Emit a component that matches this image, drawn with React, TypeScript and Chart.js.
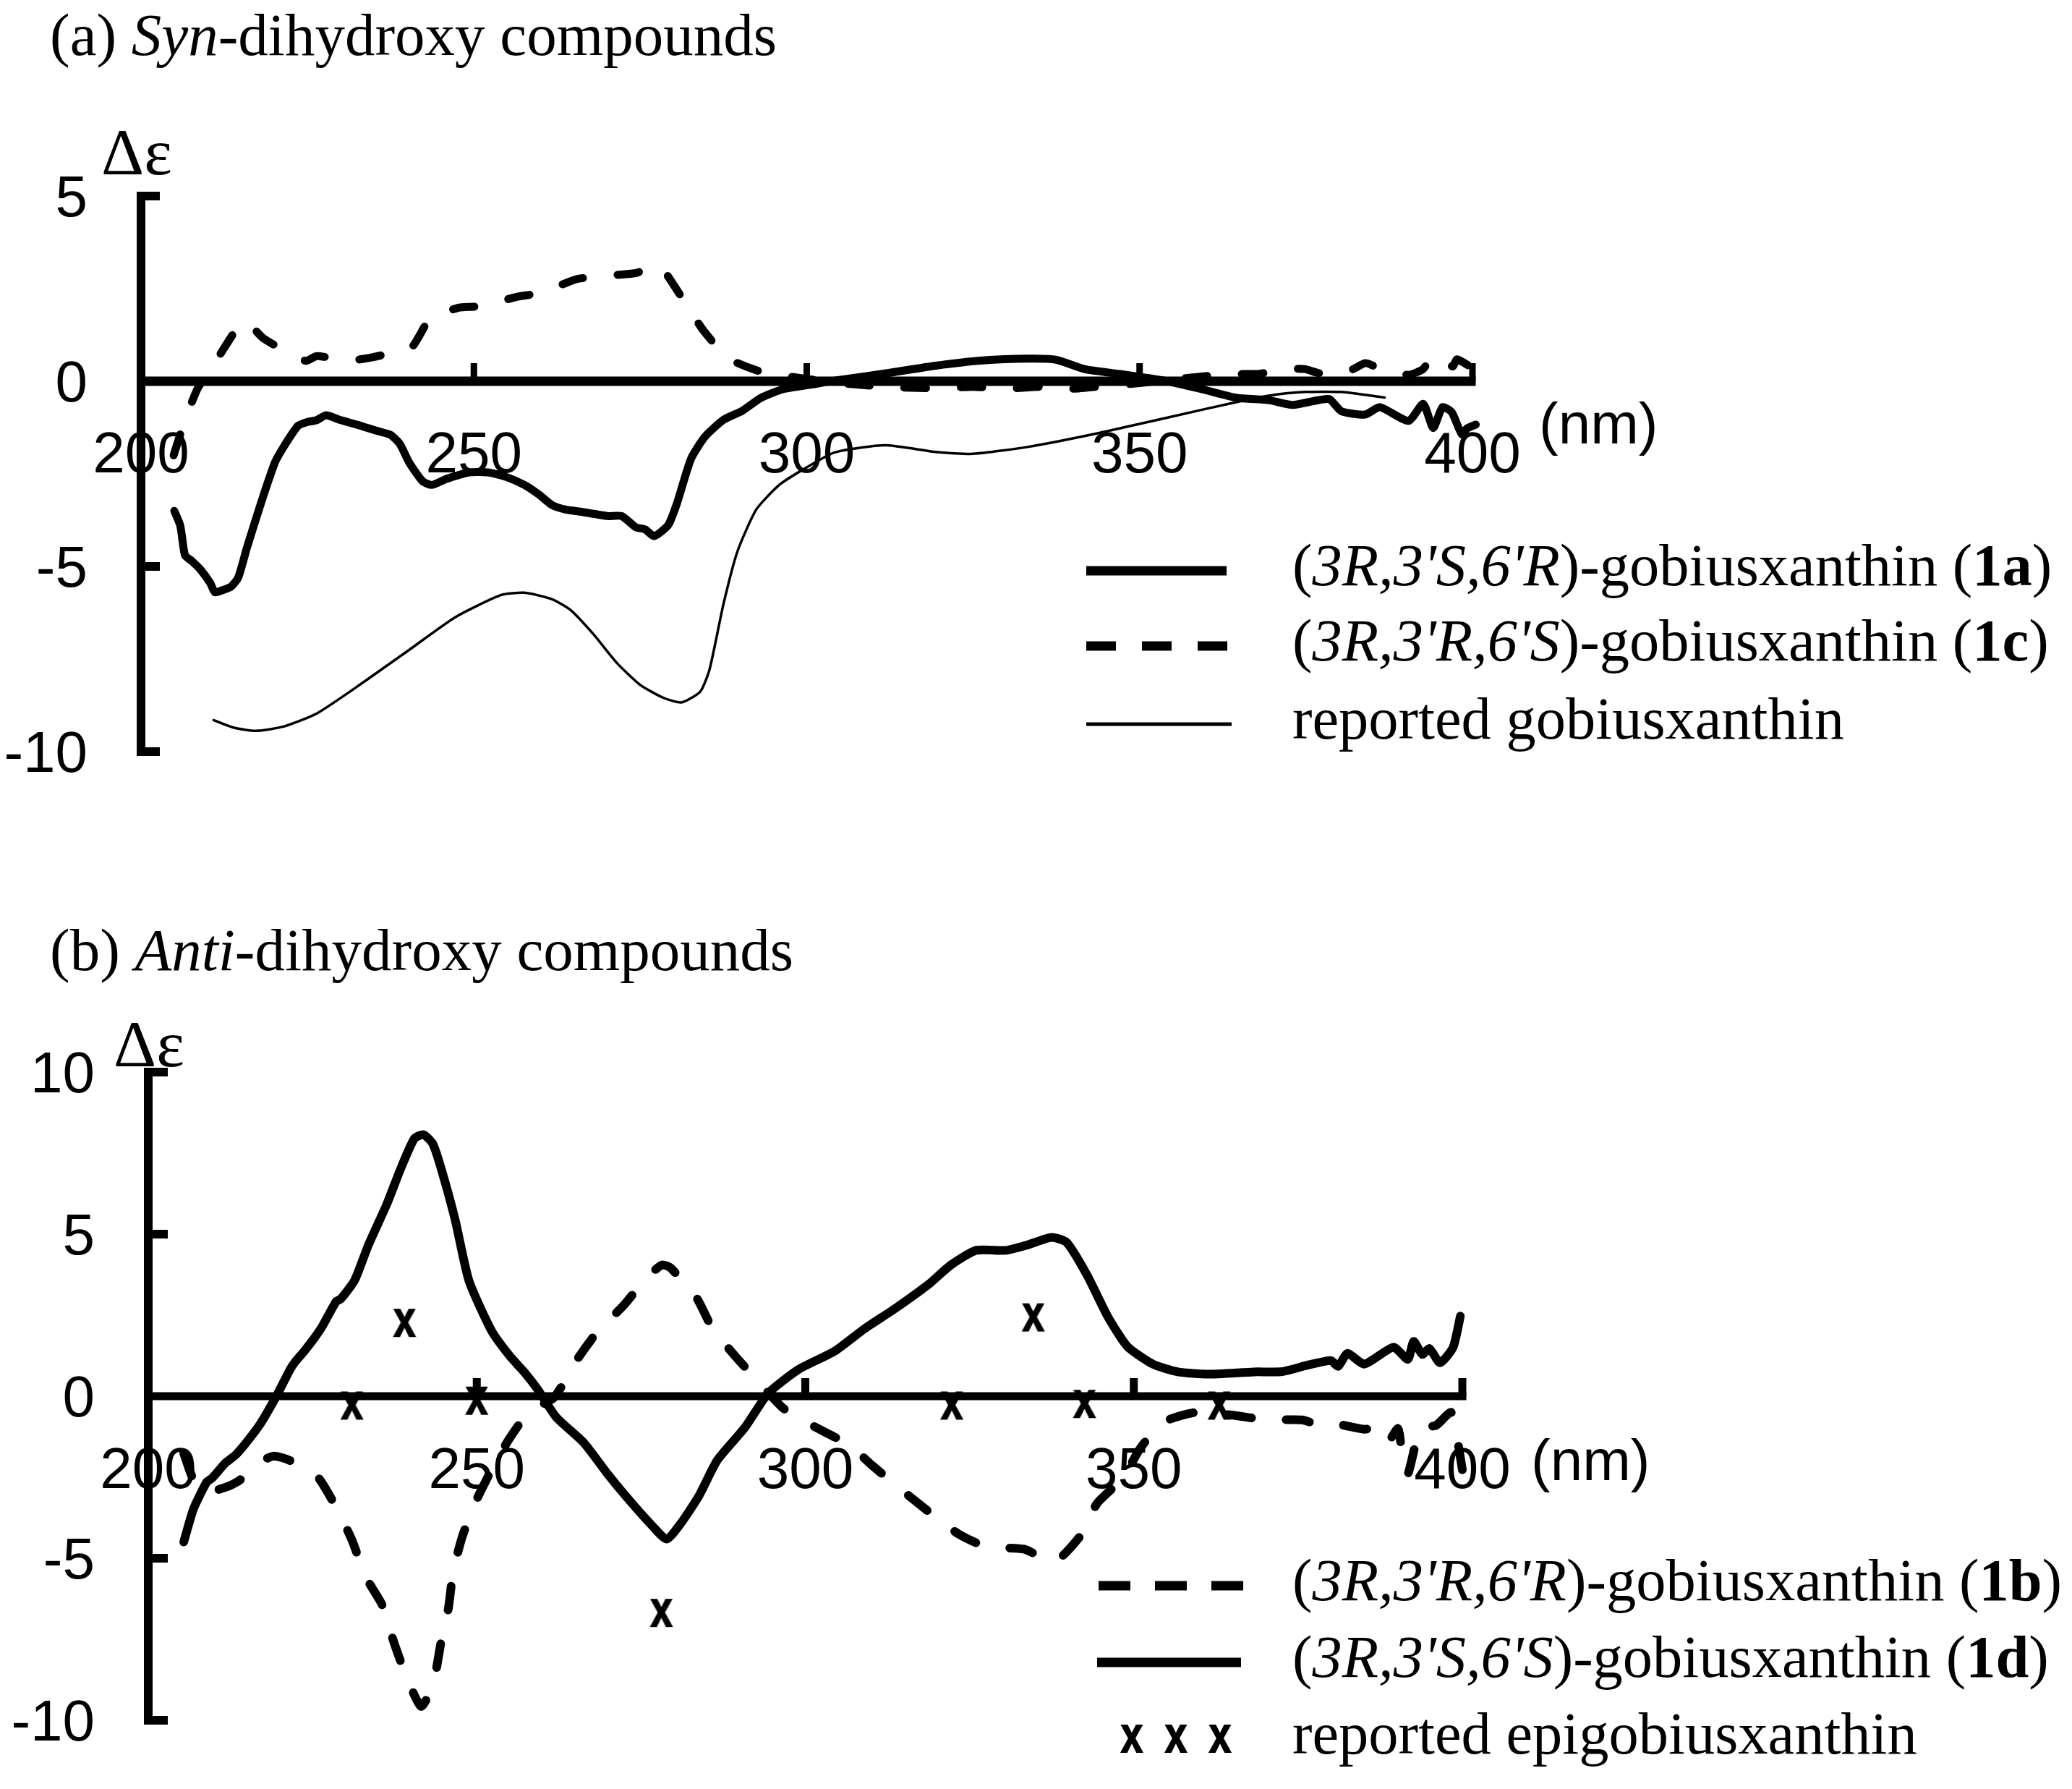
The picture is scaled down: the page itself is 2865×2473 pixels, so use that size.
import React, { useEffect, useRef } from 'react';
import Chart from 'chart.js/auto';

// ---------- ticks ----------
const X_TICKS = [200, 250, 300, 350, 400];
const A_Y_TICKS = [5, 0, -5, -10];
const B_Y_TICKS = [10, 5, 0, -5, -10];

// ---------- (a) Syn-dihydroxy compounds ----------
const a1aNm = [205, 205.9, 206.6, 207.6, 209, 210.4, 211.1, 212.1, 213.5, 214.6, 215.9, 218, 220.1, 221.5, 223.6, 225, 226.4, 227.8, 229.8, 232.6, 235.4, 237.5, 238.9, 240.3, 242.3, 243.7, 245.8, 249.3, 252.1, 254.8, 257.6, 259.7, 261.8, 263.9, 266, 268, 270.1, 272.2, 274.3, 275.7, 277.1, 279.2, 280.5, 282.6, 284.7, 287.5, 290.3, 293.1, 296.5, 300.7, 303.5, 305.5, 312.5, 319.4, 326.4, 333.3, 337.5, 341.7, 347.2, 354.2, 359.7, 364.6, 369.4, 373, 378.4, 380.3, 383.9, 386.1, 390.4, 392.6, 394.1, 395.5, 396.9, 398.4, 399.2, 400.5];
const a1aDe = [-3.5, -3.9, -4.7, -4.85, -5.1, -5.45, -5.7, -5.65, -5.55, -5.3, -4.5, -3.3, -2.2, -1.75, -1.2, -1.1, -1.05, -0.92, -1.04, -1.18, -1.34, -1.45, -1.7, -2.2, -2.7, -2.8, -2.64, -2.46, -2.46, -2.58, -2.8, -3.05, -3.35, -3.47, -3.52, -3.58, -3.64, -3.64, -3.94, -4.0, -4.18, -3.88, -3.3, -2.1, -1.5, -1.04, -0.8, -0.45, -0.21, -0.09, 0.0, 0.05, 0.23, 0.42, 0.56, 0.61, 0.58, 0.33, 0.19, 0.0, -0.23, -0.45, -0.51, -0.64, -0.48, -0.81, -0.9, -0.7, -1.07, -0.61, -1.26, -0.7, -0.84, -1.43, -1.27, -1.17];

const a1cNm = [204.9, 206.5, 208.5, 211.2, 214.2, 215.7, 218.3, 222.3, 224.8, 226.4, 230.9, 233.3, 236.1, 240.6, 243.4, 247.6, 250, 251.7, 256.2, 260.1, 265.3, 269.1, 274.3, 277.4, 278.5, 281.6, 284.4, 288.2, 293.1, 299.3, 305, 312, 319.4, 325, 329.9, 335, 340, 345, 350, 355, 363.2, 368, 371.6, 374.8, 377.2, 381.7, 383.9, 385.4, 387, 390.3, 392.6, 394.1, 397, 397.7, 400.2];
const a1cDe = [-2.0, -1.1, -0.2, 0.53, 1.37, 1.62, 1.17, 0.75, 0.55, 0.68, 0.56, 0.6, 0.7, 0.91, 1.68, 1.98, 2.01, 2.04, 2.27, 2.39, 2.75, 2.84, 2.92, 3.13, 3.0, 2.16, 1.39, 0.62, 0.26, 0.08, -0.05, -0.15, -0.19, -0.15, -0.2, -0.15, -0.2, -0.12, -0.05, 0.05, 0.19, 0.2, 0.33, 0.33, 0.21, 0.3, 0.49, 0.4, 0.36, 0.17, 0.33, 0.69, 0.4, 0.59, 0.33];

const aRepNm = [210.9, 213.9, 217.3, 221.5, 226.4, 233.3, 240.3, 247.2, 254.1, 257.6, 261.8, 264.6, 268, 271.5, 275, 278.5, 281.2, 284, 285.4, 287.5, 289.6, 292.4, 295.8, 299.3, 304.2, 311.8, 319.4, 325, 333.3, 343.8, 354.2, 364.6, 369.4, 374.8, 380.3, 386.8];
const aRepDe = [-9.15, -9.35, -9.44, -9.32, -8.97, -8.14, -7.25, -6.37, -5.77, -5.71, -5.89, -6.19, -6.84, -7.61, -8.2, -8.55, -8.67, -8.38, -7.78, -6.01, -4.59, -3.47, -2.81, -2.4, -1.92, -1.73, -1.91, -1.96, -1.77, -1.4, -0.98, -0.56, -0.39, -0.29, -0.29, -0.44];

// ---------- (b) Anti-dihydroxy compounds ----------
const b1bNm = [205.4, 206.9, 209, 212.4, 214, 216.2, 219, 221.5, 225.7, 228.7, 231, 233.1, 235.6, 237.3, 239.1, 241.5, 243.3, 244.6, 245.7, 246.4, 247.8, 249.9, 252, 254.8, 257.9, 261.8, 265.3, 268.4, 272.3, 275.8, 278.2, 279.5, 283.5, 285.9, 289.4, 292.9, 296.7, 301.3, 306.7, 310.2, 314.4, 318.7, 323.3, 327.5, 333.3, 337.9, 342.1, 344.4, 348.3, 351, 354.4, 359.4, 364.8, 370.2, 375.6, 378.4, 380.6, 385.1, 387.3, 388.7, 390.2, 390.8, 391.7, 393.6, 396, 398.3, 399.3, 400];
const b1bDe = [-1.76, -2.58, -2.95, -2.76, -2.58, -2.13, -1.85, -1.98, -2.47, -3.47, -4.44, -5.58, -6.44, -7.54, -8.55, -9.57, -8.94, -7.54, -6.52, -5.42, -4.33, -3.23, -2.37, -1.36, -0.5, -0.03, 1.14, 2.0, 2.79, 3.65, 4.05, 3.96, 3.02, 2.08, 1.22, 0.44, -0.38, -0.93, -1.51, -2.14, -2.85, -3.55, -4.25, -4.64, -4.72, -5.11, -4.25, -3.31, -2.53, -1.6, -0.81, -0.5, -0.58, -0.73, -0.73, -0.9, -0.85, -1.02, -0.96, -1.39, -1.0, -1.7, -2.4, -1.0, -0.9, -0.5, -1.4, -2.27];

const b1dNm = [205.4, 206.9, 208.9, 209.7, 211.8, 213.2, 214.8, 217, 219.5, 221.6, 222.4, 223.7, 225.3, 226.5, 228.6, 229.3, 231.4, 233.5, 236.3, 238.4, 240.5, 241.9, 243.3, 244.6, 246.7, 248.8, 252.3, 255.1, 257.2, 259.3, 262.1, 266.3, 269.8, 273.3, 276.8, 278.9, 281, 283.8, 286.6, 290.8, 294.4, 299, 304.4, 309, 313.7, 319, 322.1, 326, 330.6, 333.7, 337.5, 339.8, 342.9, 346, 349, 352.9, 356.7, 361.3, 368.3, 372.6, 376.3, 380, 381.1, 382.5, 385.1, 389.5, 391.7, 392.6, 393.9, 395, 396.6, 398.6, 399.7];
const b1dDe = [-4.5, -3.47, -2.65, -2.53, -2.05, -1.83, -1.46, -0.87, 0.0, 0.83, 1.07, 1.38, 1.8, 2.16, 2.92, 3.0, 3.57, 4.66, 5.92, 7.01, 7.95, 8.07, 7.79, 7.01, 5.45, 3.57, 2.0, 1.22, 0.75, 0.2, -0.65, -1.44, -2.37, -3.23, -4.02, -4.41, -3.94, -3.08, -1.98, -0.97, 0.1, 0.83, 1.38, 2.08, 2.71, 3.49, 4.04, 4.5, 4.5, 4.66, 4.9, 4.74, 3.73, 2.47, 1.54, 0.99, 0.75, 0.68, 0.75, 0.76, 0.95, 1.1, 0.92, 1.32, 0.99, 1.51, 1.14, 1.69, 1.29, 1.47, 1.03, 1.51, 2.47];

const bEpiNm = [231.0, 239.0, 250.0, 278.1, 322.3, 334.7, 342.5, 363.0];
const bEpiDe = [-0.3, 2.25, -0.15, -6.7, -0.3, 2.42, -0.25, -0.3];

// ---------- text ----------
type Run = { t: string; s: string };
const TITLE_A: Run[] = [{ t: '(a) ', s: '' }, { t: 'Syn', s: 'italic' }, { t: '-dihydroxy compounds', s: '' }];
const TITLE_B: Run[] = [{ t: '(b) ', s: '' }, { t: 'Anti', s: 'italic' }, { t: '-dihydroxy compounds', s: '' }];
const chem = (a: string, b: string, c: string, lab: string): Run[] => [
  { t: '(', s: '' }, { t: '3', s: 'italic' }, { t: a, s: 'italic' }, { t: ",3'", s: 'italic' }, { t: b, s: 'italic' },
  { t: ",6'", s: 'italic' }, { t: c, s: 'italic' }, { t: ')-gobiusxanthin (', s: '' }, { t: lab, s: 'bold' }, { t: ')', s: '' },
];
const LEG_A: Run[][] = [chem('R', 'S', 'R', '1a'), chem('R', 'R', 'S', '1c'), [{ t: 'reported gobiusxanthin', s: '' }]];
const LEG_B: Run[][] = [chem('R', 'R', 'R', '1b'), chem('R', 'S', 'S', '1d'), [{ t: 'reported epigobiusxanthin', s: '' }]];

const SERIF = '"Liberation Serif", "Times New Roman", serif';
const SANS = '"Liberation Sans", Arial, sans-serif';

const pts = (xs: number[], ys: number[]) => xs.map((x, i) => ({ x, y: ys[i] }));

function drawRuns(ctx: CanvasRenderingContext2D, runs: Run[], x: number, y: number, size: number) {
  ctx.textAlign = 'left';
  ctx.textBaseline = 'alphabetic';
  let cx = x;
  for (const r of runs) {
    ctx.font = `${r.s} ${size}px ${SERIF}`.trim();
    ctx.fillText(r.t, cx, y);
    cx += ctx.measureText(r.t).width;
  }
}

function makeXImage() {
  const c = document.createElement('canvas');
  c.width = 38;
  c.height = 46;
  const g = c.getContext('2d')!;
  g.fillStyle = '#000';
  g.strokeStyle = '#000';
  g.lineWidth = 1.5;
  g.font = `bold 54px ${SANS}`;
  g.textAlign = 'center';
  g.textBaseline = 'alphabetic';
  g.translate(19, 41);
  g.scale(1, 1.3);
  g.fillText('x', 0, 0);
  g.strokeText('x', 0, 0);
  return c;
}

type Spec = {
  yMin: number; yMax: number; yTicks: number[];
  yAxisW: number; xAxisW: number; tickW: number; yTickLen: number; xTickW: number; xTickLen: number;
  xLabelDy: number; nmX: number; nmY: number; deX: number; deY: number;
  title: Run[]; titleY: number; legend: Run[][]; legY: number[];
  samples: any[];
};

function makePlugin(spec: Spec, xImg: HTMLCanvasElement) {
  return {
    id: 'cdAxes',
    beforeDatasetsDraw(chart: any) {
      const ctx = chart.ctx as CanvasRenderingContext2D;
      const xs = chart.scales.x, ys = chart.scales.y;
      const ax = xs.getPixelForValue(200);
      const ay = ys.getPixelForValue(0);
      const xEnd = xs.getPixelForValue(400);
      ctx.save();
      ctx.strokeStyle = '#000';
      ctx.fillStyle = '#000';
      ctx.lineCap = 'butt';
      ctx.lineWidth = spec.yAxisW;
      ctx.beginPath();
      ctx.moveTo(ax, ys.getPixelForValue(spec.yMax) - spec.tickW / 2);
      ctx.lineTo(ax, ys.getPixelForValue(spec.yMin) + spec.tickW / 2);
      ctx.stroke();
      ctx.lineWidth = spec.tickW;
      for (const t of spec.yTicks) {
        if (t === 0) continue;
        const py = ys.getPixelForValue(t);
        ctx.beginPath();
        ctx.moveTo(ax, py);
        ctx.lineTo(ax + spec.yTickLen, py);
        ctx.stroke();
      }
      ctx.lineWidth = spec.xAxisW;
      ctx.beginPath();
      ctx.moveTo(ax, ay);
      ctx.lineTo(xEnd + spec.xTickW / 2, ay);
      ctx.stroke();
      ctx.lineWidth = spec.xTickW;
      for (const t of X_TICKS) {
        if (t === 200) continue;
        const px = xs.getPixelForValue(t);
        ctx.beginPath();
        ctx.moveTo(px, ay);
        ctx.lineTo(px, ay - spec.xTickLen);
        ctx.stroke();
      }
      // tick labels
      ctx.font = `80px ${SANS}`;
      ctx.textBaseline = 'alphabetic';
      ctx.textAlign = 'center';
      for (const t of X_TICKS) ctx.fillText(String(t), xs.getPixelForValue(t), ay + spec.xLabelDy);
      ctx.textAlign = 'right';
      for (const t of spec.yTicks) ctx.fillText(String(t), ax - 74, ys.getPixelForValue(t) + 28);
      ctx.textAlign = 'left';
      ctx.fillText('(nm)', spec.nmX, spec.nmY);
      ctx.font = `92px ${SERIF}`;
      ctx.fillText('\u0394\u03b5', spec.deX, spec.deY);
      ctx.restore();
    },
    afterDraw(chart: any) {
      const ctx = chart.ctx as CanvasRenderingContext2D;
      ctx.save();
      ctx.fillStyle = '#000';
      ctx.strokeStyle = '#000';
      drawRuns(ctx, spec.title, 69, spec.titleY, 83);
      spec.legend.forEach((runs, i) => {
        const y = spec.legY[i];
        const s = spec.samples[i];
        if (s.kind === 'x') {
          for (const cx of s.xs) ctx.drawImage(xImg, cx - xImg.width / 2, y - xImg.height / 2);
        } else {
          ctx.lineWidth = s.w;
          ctx.lineCap = 'butt';
          ctx.setLineDash(s.dash || []);
          ctx.beginPath();
          ctx.moveTo(s.x0, y);
          ctx.lineTo(s.x1, y);
          ctx.stroke();
          ctx.setLineDash([]);
        }
        drawRuns(ctx, runs, 1787, y + 20, 82.5);
      });
      ctx.restore();
    },
  };
}

function lineDs(data: any[], width: number, dash?: number[]) {
  return {
    data,
    borderColor: '#000',
    backgroundColor: '#000',
    borderWidth: width,
    borderDash: dash || [],
    borderCapStyle: 'round',
    borderJoinStyle: 'round',
    pointRadius: 0,
    pointHoverRadius: 0,
    tension: 0.2,
    fill: false,
    clip: false,
  };
}

function makeConfig(datasets: any[], spec: Spec, pad: any, xImg: HTMLCanvasElement) {
  return {
    type: 'line',
    data: { datasets },
    options: {
      animation: false,
      responsive: false,
      maintainAspectRatio: false,
      devicePixelRatio: 1,
      layout: { padding: pad },
      events: [],
      plugins: { legend: { display: false }, tooltip: { enabled: false }, title: { display: false } },
      scales: {
        x: { type: 'linear', min: 200, max: 400, display: false },
        y: { type: 'linear', min: spec.yMin, max: spec.yMax, display: false },
      },
    },
    plugins: [makePlugin(spec, xImg)],
  } as any;
}

export default function App() {
  const refA = useRef<HTMLCanvasElement>(null);
  const refB = useRef<HTMLCanvasElement>(null);

  useEffect(() => {
    const xImg = makeXImage();
    const specA: Spec = {
      yMin: -10, yMax: 5, yTicks: A_Y_TICKS,
      yAxisW: 12, xAxisW: 13, tickW: 12, yTickLen: 26, xTickW: 9, xTickLen: 25,
      xLabelDy: 126, nmX: 2128, nmY: 613, deX: 140, deY: 241,
      title: TITLE_A, titleY: 76, legend: LEG_A, legY: [789, 893, 1001],
      samples: [
        { kind: 'line', w: 13, x0: 1502, x1: 1696 },
        { kind: 'line', w: 13, x0: 1502, x1: 1697, dash: [41, 36] },
        { kind: 'line', w: 5, x0: 1502, x1: 1703 },
      ],
    };
    const specB: Spec = {
      yMin: -10, yMax: 10, yTicks: B_Y_TICKS,
      yAxisW: 12, xAxisW: 11, tickW: 12, yTickLen: 27, xTickW: 11, xTickLen: 25,
      xLabelDy: 127, nmX: 2117, nmY: 810, deX: 157, deY: 238,
      title: TITLE_B, titleY: 105, legend: LEG_B, legY: [956, 1062, 1168],
      samples: [
        { kind: 'line', w: 13, x0: 1519, x1: 1719, dash: [44, 34] },
        { kind: 'line', w: 13, x0: 1517, x1: 1716 },
        { kind: 'x', xs: [1565, 1626, 1687] },
      ],
    };
    const dsA = [
      lineDs(pts(a1aNm, a1aDe), 11),
      lineDs(pts(a1cNm, a1cDe), 11, [30, 48]),
      lineDs(pts(aRepNm, aRepDe), 3.5),
    ];
    const dsB = [
      lineDs(pts(b1bNm, b1bDe), 12, [33, 48]),
      lineDs(pts(b1dNm, b1dDe), 12),
      {
        data: pts(bEpiNm, bEpiDe),
        showLine: false,
        pointStyle: xImg,
        pointRadius: 18,
        borderColor: '#000',
        backgroundColor: '#000',
        clip: false,
      },
    ];
    const ca = new Chart(refA.current!, makeConfig(dsA, specA, { left: 195, right: 829, top: 271, bottom: 197 }, xImg));
    const cb = new Chart(refB.current!, makeConfig(dsB, specB, { left: 205, right: 843, top: 246, bottom: 95 }, xImg));
    return () => {
      ca.destroy();
      cb.destroy();
    };
  }, []);

  return (
    <div style={{ position: 'absolute', left: 0, top: 0, width: 2865, height: 2473, background: '#fff', overflow: 'hidden' }}>
      <canvas ref={refA} width={2865} height={1236} style={{ position: 'absolute', left: 0, top: 0 }} />
      <canvas ref={refB} width={2865} height={1237} style={{ position: 'absolute', left: 0, top: 1236 }} />
    </div>
  );
}
